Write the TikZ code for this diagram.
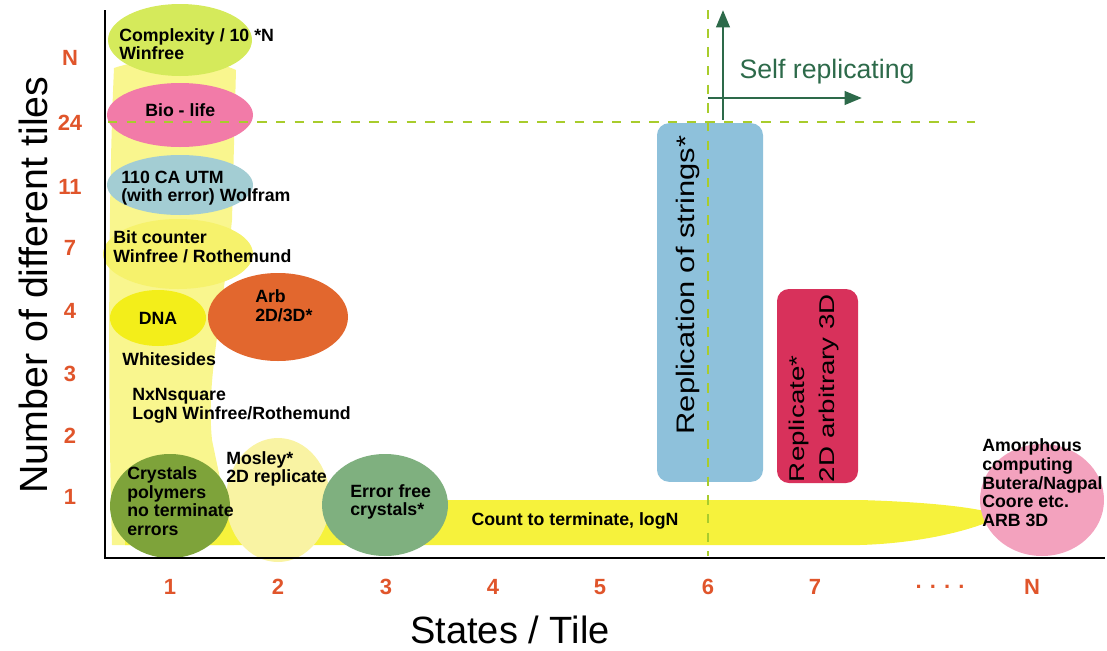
\documentclass[tikz,border=0pt]{standalone}
\usepackage{fontspec}
\setmainfont{Liberation Sans}
\usetikzlibrary{arrows.meta,shapes.geometric}
\definecolor{tickred}{HTML}{E0552B}
\definecolor{guidegreen}{HTML}{A8CC2C}
\definecolor{srgreen}{HTML}{2D6A4A}
\definecolor{colfill}{HTML}{F9F68E}
\definecolor{bandfill}{HTML}{F6F23C}
\definecolor{cplxfill}{HTML}{D5EA5B}
\definecolor{biofill}{HTML}{F27BA8}
\definecolor{cafill}{HTML}{A3CDD3}
\definecolor{bitfill}{HTML}{F6F26C}
\definecolor{dnafill}{HTML}{F3EE1A}
\definecolor{arbfill}{HTML}{E2672E}
\definecolor{mosleyfill}{HTML}{F9F3A3}
\definecolor{crysfill}{HTML}{7EA33A}
\definecolor{errfill}{HTML}{7FB07F}
\definecolor{amorphfill}{HTML}{F3A2BE}
\definecolor{stringsfill}{HTML}{8EC1DB}
\definecolor{replfill}{HTML}{D8315B}

\begin{document}
\begin{tikzpicture}[x=0.75pt,y=-0.75pt,
    blob/.style={ellipse,inner sep=0pt},
    tag/.style={font=\fontsize{13.3}{14}\selectfont\bfseries,align=left,anchor=west,inner sep=0pt},
    tick/.style={font=\fontsize{16.5}{18}\selectfont\bfseries,text=tickred},
    guide/.style={draw=guidegreen,line width=1.5pt,dash pattern=on 7pt off 7pt},
    srarrow/.style={draw=srgreen,line width=2.2pt,-{Triangle[length=13pt,width=10pt]}},
    bar/.style={rounded corners=9pt,inner sep=0pt}
  ]
    \useasboundingbox (0,0) rectangle (1107,650);

    % soft background regions behind the ellipses
    \fill[colfill] (114,68) .. controls (150,56) and (205,56) .. (236,70)
      -- (232,220) .. controls (222,320) and (206,380) .. (212,440)
      -- (234,545) -- (112,545) .. controls (108,400) and (108,200) .. cycle;
    \fill[bandfill] (125,500) -- (860,500) .. controls (930,502) and (985,508) .. (1000,516)
      .. controls (985,526) and (930,543) .. (860,545) -- (125,545) -- cycle;

    \node[blob,fill=cplxfill,minimum width=108pt,minimum height=54pt] (cplx) at (180,40) {};
    \node[blob,fill=biofill,minimum width=109.5pt,minimum height=48pt] (bio) at (180,115) {};
    \node[blob,fill=cafill,minimum width=109.5pt,minimum height=45pt] (ca) at (180,185) {};
    \node[blob,fill=bitfill,minimum width=112.5pt,minimum height=52.5pt] (bit) at (178,254) {};
    \node[blob,fill=dnafill,minimum width=72pt,minimum height=42pt] (dna) at (158,318) {};
    \node[blob,fill=arbfill,minimum width=105pt,minimum height=66pt] (arb) at (278,317) {};
    \node[blob,fill=mosleyfill,minimum width=78pt,minimum height=93pt] (mosley) at (278,500) {};
    \node[blob,fill=crysfill,minimum width=90pt,minimum height=78pt] (crys) at (170,506) {};
    \node[blob,fill=errfill,minimum width=94.5pt,minimum height=76.5pt] (errfree) at (385,505) {};
    \node[blob,fill=amorphfill,minimum width=93pt,minimum height=84pt] (amorph) at (1042,500) {};

    \node[bar,fill=stringsfill,minimum width=79.5pt,minimum height=269pt] (strings) at (710,302.5) {};
    \node[bar,fill=replfill,minimum width=60.75pt,minimum height=145.5pt] (repl) at (817.5,386) {};

    % guide lines at six states and 24 tiles
    \draw[guide] (108,122) -- (975,122);
    \draw[guide] (708,10) -- (708,556);

    % axes
    \coordinate (top) at (105,10);
    \coordinate (origin) at (105,558);
    \coordinate (right) at (1105,558);
    \draw[line width=2pt] (top) -- (origin) -- (right);

    \coordinate (vfoot) at (723,120);
    \coordinate (vhead) at (723,10);
    \coordinate (hfoot) at (708,98);
    \coordinate (hhead) at (862,98);
    \draw[srarrow] (vfoot) -- (vhead);
    \draw[srarrow] (hfoot) -- (hhead);
    \node[font=\fontsize{20}{22}\selectfont,text=srgreen] (selfrep) at (827,72) {Self replicating};

    \node[tag] (cplxtxt) at (119,44) {Complexity / 10 *N\\Winfree};
    \node[tag] (biotxt) at (145,110) {Bio - life};
    \node[tag] (catxt) at (121,188) {110 CA UTM\\(with error) Wolfram};
    \node[tag] (bittxt) at (113,247) {Bit counter\\Winfree / Rothemund};
    \node[tag,anchor=center] (dnatxt) at (dna) {DNA};
    \node[tag] (arbtxt) at (255,306) {Arb\\2D/3D*};
    \node[tag] (whtxt) at (122,359) {Whitesides};
    \node[tag] (nxntxt) at (132,406) {NxNsquare\\LogN Winfree/Rothemund};
    \node[tag] (crystxt) at (127,501) {Crystals\\polymers\\no terminate\\errors};
    \node[tag] (mosleytxt) at (226,469) {Mosley*\\2D replicate};
    \node[tag] (errtxt) at (350,502) {Error free\\crystals*};
    \node[tag,anchor=center] (counttxt) at (575,521) {Count to terminate, logN};
    \node[tag] (amorphtxt) at (982,483) {Amorphous\\computing\\Butera/Nagpal\\Coore etc.\\ARB 3D};

    \node[rotate=90,font=\fontsize{19}{22}\selectfont] (stringstxt) at (688,285)
      {\scalebox{1.22}[1]{Replication of strings*}};
    \node[rotate=90,align=left,font=\fontsize{16}{23}\selectfont] (repltxt) at (814,388)
      {\scalebox{1.3}[1]{Replicate*}\\\scalebox{1.3}[1]{2D arbitrary 3D}};

    % tick labels
    \foreach \lab/\yy in {N/58,24/123,11/187,7/248,4/311,3/374,2/436,1/497}
      \node[tick] at (70,\yy) {\lab};
    \foreach \lab/\xx in {1/170,2/278,3/386,4/493,5/600,6/708,7/815,N/1032}
      \node[tick] at (\xx,587) {\lab};
    \node[tick] (xdots) at (940,587) {. . . .};

    \node[font=\fontsize{28.5}{30}\selectfont,inner sep=0pt] (xtitle) at (510,630) {States / Tile};
    \node[rotate=90,font=\fontsize{29.5}{31}\selectfont] (ytitle) at (33,285) {Number of different tiles};
  \end{tikzpicture}
\end{document}
